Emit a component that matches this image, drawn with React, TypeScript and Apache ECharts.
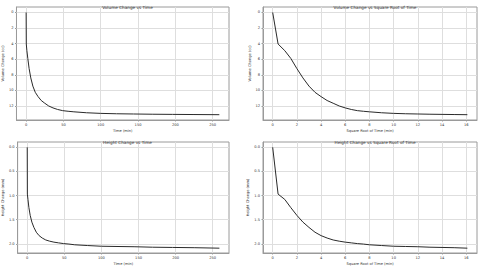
import React, { useEffect, useRef } from "react";
import * as echarts from "echarts";

// Elapsed time readings (min)
const timeMin = [0, 0.2, 1, 2.25, 4, 6.25, 9, 12.25, 16, 20.25, 25, 30.25, 36, 42.25, 49, 56.25, 64, 81, 100, 121, 144, 169, 196, 225, 259];
// Volume change (cc)
const volumeChange = [0, 4.05, 4.9, 5.9, 7.2, 8.4, 9.45, 10.25, 10.8, 11.3, 11.65, 12.0, 12.25, 12.45, 12.6, 12.68, 12.75, 12.87, 12.95, 13.0, 13.03, 13.06, 13.08, 13.1, 13.12];
// Height change (mm)
const heightChange = [0, 0.97, 1.08, 1.25, 1.41, 1.55, 1.66, 1.76, 1.83, 1.88, 1.92, 1.945, 1.965, 1.98, 1.995, 2.005, 2.02, 2.035, 2.05, 2.055, 2.06, 2.07, 2.075, 2.08, 2.09];

const timeTicks = [0, 50, 100, 150, 200, 250];
const sqrtTicks = [0, 2, 4, 6, 8, 10, 12, 14, 16];
const volumeTicks = [0, 2, 4, 6, 8, 10, 12];
const heightTicks = [0, 0.5, 1.0, 1.5, 2.0];

const titles = [
  "Volume Change vs Time",
  "Volume Change vs Square Root of Time",
  "Height Change vs Time",
  "Height Change vs Square Root of Time",
];

const FONT = "DejaVu Sans";
const TEXT = "#333";
const SPINE = "#9a9a9a";
const GRIDC = "#dedede";

export default function App() {
  const ref = useRef<HTMLDivElement>(null);
  useEffect(() => {
    if (!ref.current) return;
    const chart = echarts.init(ref.current, undefined, { renderer: "svg" });
    const sqrtT = timeMin.map((t) => Math.sqrt(t));
    const grids = [
      { left: 16, top: 7, width: 213, height: 113 },
      { left: 263, top: 7, width: 214, height: 113 },
      { left: 16, top: 142, width: 213, height: 112 },
      { left: 263, top: 142, width: 214, height: 112 },
    ];
    const mkX = (i: number, ticks: number[], min: number, max: number, name: string) => ({
      type: "value",
      gridIndex: i,
      min,
      max,
      name,
      nameLocation: "middle",
      nameGap: 9,
      nameTextStyle: { fontSize: 3.6, fontFamily: FONT, color: TEXT },
      axisLine: { show: true, onZero: false, lineStyle: { color: SPINE, width: 1 } },
      axisTick: { show: true, inside: false, length: 1.5, customValues: ticks, lineStyle: { color: SPINE } },
      axisLabel: { show: true, customValues: ticks, fontSize: 3.6, fontFamily: FONT, color: TEXT, margin: 3 },
      splitLine: { show: false },
    });
    const mkY = (i: number, ticks: number[], min: number, max: number, name: string, fmt: (v: number) => string) => ({
      type: "value",
      gridIndex: i,
      inverse: true,
      min,
      max,
      name,
      nameLocation: "middle",
      nameGap: 11,
      nameTextStyle: { fontSize: 3.6, fontFamily: FONT, color: TEXT },
      axisLine: { show: true, onZero: false, lineStyle: { color: SPINE, width: 1 } },
      axisTick: { show: true, inside: false, length: 1.5, customValues: ticks, lineStyle: { color: SPINE } },
      axisLabel: { show: true, customValues: ticks, fontSize: 3.6, fontFamily: FONT, color: TEXT, margin: 3, formatter: fmt },
      splitLine: { show: false },
    });
    const fmtInt = (v: number) => String(Math.round(v));
    const fmt1 = (v: number) => v.toFixed(1);
    const gridSeries = (i: number, xt: number[], yt: number[]) => ({
      type: "line",
      xAxisIndex: i,
      yAxisIndex: i,
      data: [],
      z: 1,
      silent: true,
      markLine: {
        silent: true,
        z: 1,
        symbol: "none",
        label: { show: false },
        emphasis: { disabled: true },
        lineStyle: { color: GRIDC, width: 1, type: "solid" },
        data: [...xt.map((v) => ({ xAxis: v })), ...yt.map((v) => ({ yAxis: v }))],
      },
    });
    const lineSeries = (i: number, xs: number[], ys: number[]) => ({
      type: "line",
      xAxisIndex: i,
      yAxisIndex: i,
      z: 10,
      showSymbol: false,
      symbol: "none",
      data: xs.map((x, k) => [x, ys[k]]),
      lineStyle: { color: "#2a2a2a", width: 1 },
    });
    chart.setOption({
      animation: false,
      backgroundColor: "#ffffff",
      title: titles.map((t, i) => ({
        text: t,
        left: grids[i].left + grids[i].width / 2,
        top: grids[i].top - 6.5,
        textAlign: "center",
        textStyle: { fontSize: 4.2, fontWeight: "normal", fontFamily: FONT, color: TEXT },
      })),
      grid: grids.map((g) => ({ ...g, show: true, borderColor: SPINE, borderWidth: 1, backgroundColor: "transparent" })),
      xAxis: [
        mkX(0, timeTicks, -12.95, 271.95, "Time (min)"),
        mkX(1, sqrtTicks, -0.8, 16.89, "Square Root of Time (min)"),
        mkX(2, timeTicks, -12.95, 271.95, "Time (min)"),
        mkX(3, sqrtTicks, -0.8, 16.89, "Square Root of Time (min)"),
      ],
      yAxis: [
        mkY(0, volumeTicks, -0.7, 13.8, "Volume Change (cc)", fmtInt),
        mkY(1, volumeTicks, -0.7, 13.8, "Volume Change (cc)", fmtInt),
        mkY(2, heightTicks, -0.11, 2.19, "Height Change (mm)", fmt1),
        mkY(3, heightTicks, -0.11, 2.19, "Height Change (mm)", fmt1),
      ],
      series: [
        gridSeries(0, timeTicks, volumeTicks),
        gridSeries(1, sqrtTicks, volumeTicks),
        gridSeries(2, timeTicks, heightTicks),
        gridSeries(3, sqrtTicks, heightTicks),
        lineSeries(0, timeMin, volumeChange),
        lineSeries(1, sqrtT, volumeChange),
        lineSeries(2, timeMin, heightChange),
        lineSeries(3, sqrtT, heightChange),
      ],
    });
    return () => chart.dispose();
  }, []);
  return <div ref={ref} style={{ position: "fixed", left: 0, top: 0, width: 480, height: 267 }} />;
}
